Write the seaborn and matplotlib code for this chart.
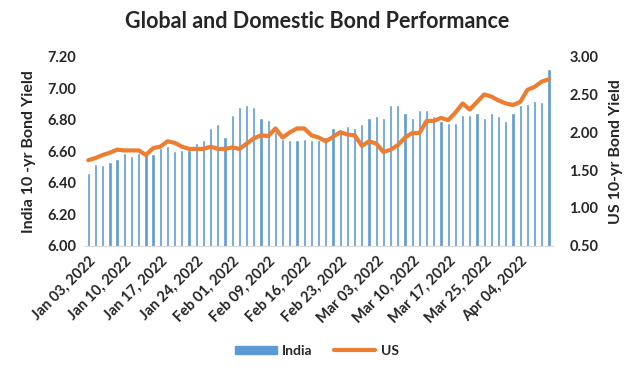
import numpy as np
import pandas as pd
import matplotlib
matplotlib.use("Agg")
import matplotlib.pyplot as plt
import seaborn as sns
from matplotlib.patches import Patch
from matplotlib.lines import Line2D

# trading days shown on the category axis
dates = [
    "Jan 03, 2022", "Jan 04, 2022", "Jan 05, 2022", "Jan 06, 2022", "Jan 07, 2022",
    "Jan 10, 2022", "Jan 11, 2022", "Jan 12, 2022", "Jan 13, 2022", "Jan 14, 2022",
    "Jan 17, 2022", "Jan 18, 2022", "Jan 19, 2022", "Jan 20, 2022", "Jan 21, 2022",
    "Jan 24, 2022", "Jan 25, 2022", "Jan 27, 2022", "Jan 28, 2022", "Jan 31, 2022",
    "Feb 01, 2022", "Feb 02, 2022", "Feb 03, 2022", "Feb 04, 2022", "Feb 07, 2022",
    "Feb 09, 2022", "Feb 10, 2022", "Feb 11, 2022", "Feb 14, 2022", "Feb 15, 2022",
    "Feb 16, 2022", "Feb 17, 2022", "Feb 18, 2022", "Feb 21, 2022", "Feb 22, 2022",
    "Feb 23, 2022", "Feb 24, 2022", "Feb 25, 2022", "Feb 28, 2022", "Mar 02, 2022",
    "Mar 03, 2022", "Mar 04, 2022", "Mar 07, 2022", "Mar 08, 2022", "Mar 09, 2022",
    "Mar 10, 2022", "Mar 11, 2022", "Mar 14, 2022", "Mar 15, 2022", "Mar 16, 2022",
    "Mar 17, 2022", "Mar 21, 2022", "Mar 22, 2022", "Mar 23, 2022", "Mar 24, 2022",
    "Mar 25, 2022", "Mar 28, 2022", "Mar 29, 2022", "Mar 30, 2022", "Mar 31, 2022",
    "Apr 04, 2022", "Apr 05, 2022", "Apr 06, 2022", "Apr 07, 2022", "Apr 08, 2022",
]

india = [
    6.46, 6.52, 6.51, 6.53, 6.55, 6.59, 6.57, 6.59, 6.58, 6.58,
    6.62, 6.63, 6.60, 6.61, 6.61, 6.65, 6.67, 6.75, 6.77, 6.69,
    6.83, 6.88, 6.89, 6.88, 6.81, 6.80, 6.72, 6.68, 6.67, 6.67,
    6.68, 6.67, 6.67, 6.69, 6.75, 6.74, 6.76, 6.75, 6.77, 6.81,
    6.82, 6.81, 6.89, 6.89, 6.84, 6.81, 6.86, 6.86, 6.82, 6.79,
    6.78, 6.78, 6.83, 6.83, 6.84, 6.81, 6.84, 6.82, 6.79, 6.84,
    6.89, 6.90, 6.92, 6.91, 7.12,
]

us = [
    1.63, 1.66, 1.70, 1.73, 1.77, 1.76, 1.76, 1.76, 1.70, 1.79,
    1.81, 1.88, 1.86, 1.81, 1.78, 1.78, 1.78, 1.81, 1.78, 1.78,
    1.80, 1.78, 1.85, 1.92, 1.96, 1.95, 2.05, 1.93, 2.00, 2.05,
    2.05, 1.96, 1.93, 1.88, 1.94, 2.00, 1.97, 1.96, 1.82, 1.88,
    1.85, 1.74, 1.77, 1.83, 1.93, 1.99, 1.99, 2.15, 2.15, 2.19,
    2.16, 2.26, 2.38, 2.30, 2.40, 2.50, 2.47, 2.42, 2.38, 2.36,
    2.40, 2.56, 2.60, 2.67, 2.70,
]

df = pd.DataFrame({"Date": dates, "India": india, "US": us})
df["pos"] = np.arange(len(df))

sns.set_style("white")
plt.rcParams["font.family"] = ["Lato", "DejaVu Sans"]
plt.rcParams["font.weight"] = "bold"

bar_color = "#5B9BD5"
line_color = "#ED7D31"

fig = plt.figure(figsize=(6.34, 3.77), dpi=100)
ax = fig.add_axes([0.1336, 0.348, 0.738, 0.502])

sns.barplot(data=df, x="pos", y="India", color=bar_color, width=0.45,
            saturation=1, ax=ax, native_scale=True)
ax.set_ylim(6.0, 7.2)
ax.set_yticks(np.arange(6.0, 7.21, 0.2))
ax.set_yticklabels([f"{v:.2f}" for v in np.arange(6.0, 7.21, 0.2)],
                   fontsize=10.5, fontweight="bold")
ax.set_xlim(-0.5, len(df) - 0.5)
ax.set_xticks(df["pos"][::5])
ax.set_xticklabels(df["Date"][::5], rotation=45, ha="right",
                   rotation_mode="anchor", fontsize=10.5, fontweight="bold")
ax.tick_params(axis="both", length=0, pad=6)
ax.set_xlabel("")
ax.set_ylabel("India 10 -yr Bond Yield", fontsize=11.5, fontweight="bold", labelpad=8)

ax2 = ax.twinx()
sns.lineplot(data=df, x="pos", y="US", color=line_color, linewidth=3, ax=ax2)
ax2.set_ylim(0.5, 3.0)
ax2.set_yticks(np.arange(0.5, 3.01, 0.5))
ax2.set_yticklabels([f"{v:.2f}" for v in np.arange(0.5, 3.01, 0.5)],
                    fontsize=10.5, fontweight="bold")
ax2.tick_params(axis="y", length=0, pad=12)
ax2.set_ylabel("US 10-yr Bond Yield", fontsize=11.5, fontweight="bold", labelpad=8)
ax2.set_xlim(-0.5, len(df) - 0.5)

for a in (ax, ax2):
    for side in ("top", "left", "right"):
        a.spines[side].set_visible(False)
    a.spines["bottom"].set_color("#D9D9D9")

fig.suptitle("Global and Domestic Bond Performance", fontsize=15.5,
             fontweight="bold", y=0.97)

handles = [Patch(color=bar_color), Line2D([0], [0], color=line_color, lw=3)]
fig.legend(handles, ["India", "US"], loc="center", bbox_to_anchor=(0.5, 0.07),
           ncol=2, frameon=False, handlelength=3.0, handleheight=0.5,
           columnspacing=1.5, handletextpad=0.4,
           prop={"weight": "bold", "size": 10})

fig.savefig("out.png", dpi=100)
